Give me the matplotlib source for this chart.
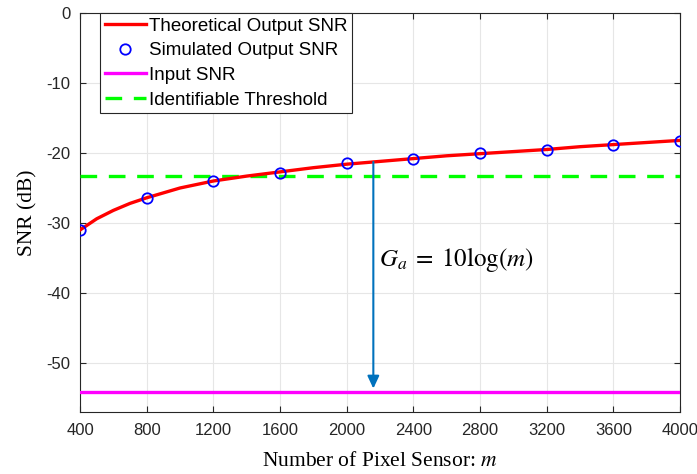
import numpy as np
import matplotlib
matplotlib.use('Agg')
import matplotlib.pyplot as plt

# theoretical output SNR curve
m_curve = [400, 500, 600, 700, 800, 1000, 1200, 1400, 1600, 1800, 2000,
           2200, 2400, 2600, 2800, 3000, 3200, 3400, 3600, 3800, 4000]
snr_curve = [-31.0, -29.4, -28.2, -27.2, -26.4, -25.0, -24.0, -23.3, -22.7,
             -22.1, -21.6, -21.2, -20.8, -20.4, -20.1, -19.8, -19.5, -19.1,
             -18.8, -18.5, -18.2]

# simulated output SNR points
m_sim = [400, 800, 1200, 1600, 2000, 2400, 2800, 3200, 3600, 4000]
snr_sim = [-31.0, -26.4, -24.0, -22.8, -21.5, -20.8, -20.05, -19.6, -18.9, -18.3]

input_snr = -54.1
threshold = -23.3
arrow_m = 2160

x_ticks = [400, 800, 1200, 1600, 2000, 2400, 2800, 3200, 3600, 4000]
y_ticks = [0, -10, -20, -30, -40, -50]

plt.rcParams['mathtext.fontset'] = 'stix'
plt.rcParams['axes.unicode_minus'] = False

fig = plt.figure(figsize=(6.97, 4.74), dpi=100)
ax = fig.add_axes([0.1148, 0.1308, 0.8608, 0.8418])

ax.plot(m_curve, snr_curve, color='red', lw=2.4, label='Theoretical Output SNR',
        zorder=4)
ax.plot(m_sim, snr_sim, 'o', mfc='none', mec='blue', mew=1.3, ms=7.5,
        label='Simulated Output SNR', zorder=5)
ax.plot([x_ticks[0], x_ticks[-1]], [input_snr, input_snr], color='magenta',
        lw=2.4, label='Input SNR', zorder=3)
ax.plot([x_ticks[0], x_ticks[-1]], [threshold, threshold], color='#00ff00',
        lw=2.4, ls=(0, (5, 3.5)), label='Identifiable Threshold', zorder=3)

y_start = np.interp(arrow_m, m_curve, snr_curve)
ax.annotate('', xy=(arrow_m, input_snr + 0.45), xytext=(arrow_m, y_start),
            arrowprops=dict(arrowstyle='-|>,head_length=0.75,head_width=0.35',
                            color='#0072BD', lw=1.5, shrinkA=0, shrinkB=0),
            zorder=6)
ax.text(arrow_m + 35, -35.2, r'$G_a\;=\;10\mathrm{log}(m)$', fontsize=18,
        va='center', ha='left')

ax.set_xlim(400, 4000)
ax.set_ylim(-57, 0)
ax.set_xticks(x_ticks)
ax.set_yticks(y_ticks)
ax.tick_params(direction='in', top=True, right=True, length=4, width=0.8,
               labelsize=12, colors='#262626')
ax.tick_params(axis='x', pad=8)
ax.tick_params(axis='y', pad=7)
for lab in ax.get_xticklabels() + ax.get_yticklabels():
    lab.set_family('Liberation Sans')
    lab.set_color('#262626')
ax.grid(True, color='#e6e6e6', lw=0.8)
ax.set_axisbelow(True)
for sp in ax.spines.values():
    sp.set_color('#262626')
    sp.set_linewidth(0.8)

ax.set_xlabel('Number of Pixel Sensor: $m$', family='Liberation Serif',
              fontsize=15.5, labelpad=10)
ax.set_ylabel('SNR (dB)', family='Liberation Serif', fontsize=15.5, labelpad=6)

leg = ax.legend(loc='upper left', bbox_to_anchor=(0.033, 1.0), borderaxespad=0,
                prop={'family': 'Liberation Sans', 'size': 13.5},
                handlelength=2.2, handletextpad=0.15, labelspacing=0.4,
                borderpad=0.25, fancybox=False, framealpha=1)
leg.get_frame().set_edgecolor('#262626')
leg.get_frame().set_linewidth(0.8)

plt.savefig('out.png', dpi=100)
